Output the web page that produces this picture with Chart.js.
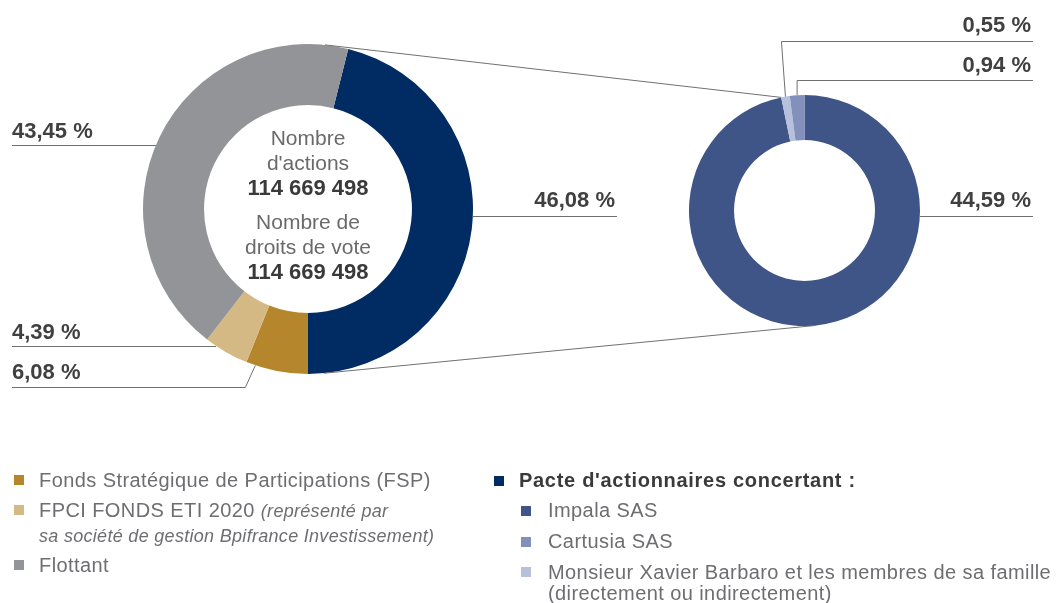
<!DOCTYPE html>
<html lang="fr">
<head>
<meta charset="utf-8">
<script src="https://cdn.jsdelivr.net/npm/chart.js@4.4.1/dist/chart.umd.min.js"></script>
<style>
    body { margin: 0; width: 1056px; height: 603px; background: #fff; position: relative; overflow: hidden;
           font-family: "Liberation Sans", Arial, sans-serif; }
    #leftBox { position: absolute; left: 143px; top: 44px; width: 330px; height: 330px; }
    #rightBox { position: absolute; left: 689px; top: 95px; width: 231px; height: 231px; }
    #overlay { position: absolute; left: 0; top: 0; pointer-events: none; }
    .pct { position: absolute; font-weight: bold; font-size: 22px; line-height: 24px; color: #404040; white-space: nowrap; }
    .center { position: absolute; left: 208px; width: 200px; text-align: center; font-size: 21px; line-height: 25px; color: #6a6a6a; }
    .center b { color: #3a3a3a; font-size: 22px; }
    .leg { position: absolute; font-size: 20px; line-height: 24px; color: #6d6e71; white-space: nowrap; letter-spacing: 0.42px; }
    .leg i { font-size: 18px; letter-spacing: 0.3px; }
    .sq { position: absolute; width: 10px; height: 10px; }
</style>
</head>
<body>
<div id="leftBox"><canvas id="mainChart"></canvas></div>
<div id="rightBox"><canvas id="pacteChart"></canvas></div>
<canvas id="overlay" width="1056" height="603"></canvas>

<div class="center" style="top:125px;">Nombre<br>d'actions<br><b>114 669 498</b></div>
<div class="center" style="top:209px;">Nombre de<br>droits de vote<br><b>114 669 498</b></div>

<div id="labels"></div>

<!-- legend -->
<div class="sq" style="left:14px; top:475px; background:#b5862b;"></div>
<div class="leg" style="left:39px; top:468px;">Fonds Stratégique de Participations (FSP)</div>
<div class="sq" style="left:14px; top:505px; background:#d5b985;"></div>
<div class="leg" style="left:39px; top:498px;">FPCI FONDS ETI 2020 <i>(représenté par</i></div>
<div class="leg" style="left:39px; top:523px;"><i>sa société de gestion Bpifrance Investissement)</i></div>
<div class="sq" style="left:14px; top:560px; background:#939497;"></div>
<div class="leg" style="left:39px; top:553px;">Flottant</div>

<div class="sq" style="left:494px; top:476px; background:#002b63;"></div>
<div class="leg" style="left:519px; top:468px; font-weight:bold; color:#3a3a3a; letter-spacing:0.7px;">Pacte d'actionnaires concertant :</div>
<div class="sq" style="left:521px; top:506px; background:#3f5587;"></div>
<div class="leg" style="left:548px; top:498px;">Impala SAS</div>
<div class="sq" style="left:521px; top:537px; background:#8390bb;"></div>
<div class="leg" style="left:548px; top:529px;">Cartusia SAS</div>
<div class="sq" style="left:521px; top:567px; background:#b7c0dc;"></div>
<div class="leg" style="left:548px; top:560px;">Monsieur Xavier Barbaro et les membres de sa famille</div>
<div class="leg" style="left:548px; top:581px;">(directement ou indirectement)</div>

<script>
    // --- data ---
    const mainLabels = ["Pacte d'actionnaires concertant", "Fonds Stratégique de Participations (FSP)", "FPCI FONDS ETI 2020", "Flottant"];
    const mainShares = [46.08, 6.08, 4.39, 43.45];
    const mainColors = ['#002b63', '#b5862b', '#d5b985', '#939497'];

    const pacteLabels = ["Impala SAS", "Monsieur Xavier Barbaro et les membres de sa famille", "Cartusia SAS"];
    const pacteShares = [44.59, 0.55, 0.94];
    const pacteColors = ['#3f5587', '#b7c0dc', '#8390bb'];

    const fmt = v => v.toFixed(2).replace('.', ',') + ' %';

    // pacte slice ends at the bottom of the ring
    const total = mainShares.reduce((a, b) => a + b, 0);
    const mainRotation = 180 - mainShares[0] / total * 360;

    function makeDonut(id, labels, data, colors, cutout, rotation) {
        return new Chart(document.getElementById(id), {
            type: 'doughnut',
            data: {
                labels: labels,
                datasets: [{ data: data, backgroundColor: colors, borderWidth: 0, hoverOffset: 0 }]
            },
            options: {
                responsive: true,
                maintainAspectRatio: false,
                animation: false,
                cutout: cutout,
                rotation: rotation,
                plugins: { legend: { display: false }, tooltip: { enabled: false } }
            }
        });
    }

    const mainChart = makeDonut('mainChart', mainLabels, mainShares, mainColors, '63%', mainRotation);
    const pacteChart = makeDonut('pacteChart', pacteLabels, pacteShares, pacteColors, '61%', 0);

    function arcInfo(chart, i) {
        const a = chart.getDatasetMeta(0).data[i];
        const box = chart.canvas.getBoundingClientRect();
        return { cx: box.left + a.x, cy: box.top + a.y, r: a.outerRadius, s: a.startAngle, e: a.endAngle };
    }
    function onRing(g, ang) { return [g.cx + g.r * Math.cos(ang), g.cy + g.r * Math.sin(ang)]; }
    function rowHit(g, y, side) {
        const d = Math.sqrt(Math.max(0, g.r * g.r - (y - g.cy) * (y - g.cy)));
        return [g.cx + side * d, y];
    }

    // label placement: [chart, index, text centre y, line y, side]
    const labelSpots = [
        [mainChart, 3, 131, 145, 'left'],
        [mainChart, 0, 200, 216, 'right'],
        [mainChart, 2, 332, 346, 'left'],
        [mainChart, 1, 372, 387, 'elbowLeft'],
        [pacteChart, 1, 25, 41, 'elbowRight'],
        [pacteChart, 2, 65, 80, 'elbowRight'],
        [pacteChart, 0, 200, 216, 'right']
    ];

    function drawLeaders() {
        const ctx = document.getElementById('overlay').getContext('2d');
        ctx.clearRect(0, 0, 1056, 603);
        ctx.strokeStyle = '#707070';
        ctx.lineWidth = 1;
        const holder = document.getElementById('labels');
        holder.innerHTML = '';

        const seg = pts => {
            ctx.beginPath();
            pts.forEach((p, k) => k ? ctx.lineTo(p[0], p[1]) : ctx.moveTo(p[0], p[1]));
            ctx.stroke();
        };

        labelSpots.forEach(([chart, i, ty, ly, mode]) => {
            const g = arcInfo(chart, i);
            const val = chart.data.datasets[0].data[i];
            const el = document.createElement('div');
            el.className = 'pct';
            el.textContent = fmt(val);
            el.style.top = (ty - 12) + 'px';
            const yl = ly + 0.5;
            const rightEdge = chart === mainChart ? 617 : 1033;
            if (mode === 'left') {
                el.style.left = '12px';
                seg([[12, yl], [rowHit(g, ly, -1)[0], yl]]);
            } else if (mode === 'right') {
                el.style.right = (1056 - rightEdge + 2) + 'px';
                seg([[rowHit(g, ly, 1)[0], yl], [rightEdge, yl]]);
            } else if (mode === 'elbowLeft') {
                el.style.left = '12px';
                const t = onRing(g, g.s + 0.85 * (g.e - g.s));
                seg([[12, yl], [t[0] - 10, yl], t]);
            } else {
                el.style.right = (1056 - rightEdge + 2) + 'px';
                const t = onRing(g, (g.s + g.e) / 2);
                const ex = i === 1 ? t[0] - 4 : t[0];
                seg([[rightEdge, yl], [ex, yl], t]);
            }
            holder.appendChild(el);
        });

        // connectors from the pacte ring on the left to its breakdown on the right
        const a = arcInfo(mainChart, 0), b = arcInfo(pacteChart, 0);
        const d = Math.hypot(b.cx - a.cx, b.cy - a.cy);
        const phi = Math.atan2(b.cy - a.cy, b.cx - a.cx);
        const off = Math.acos((a.r - b.r) / d);
        const topStart = [a.cx + a.r * Math.cos(phi - off), a.cy + a.r * Math.sin(phi - off)];
        const firstSmall = arcInfo(pacteChart, 1);
        seg([topStart, onRing(firstSmall, firstSmall.s)]);
        const th = phi + off;
        seg([[a.cx + a.r * Math.cos(th), a.cy + a.r * Math.sin(th)],
             [b.cx + b.r * Math.cos(th), b.cy + b.r * Math.sin(th)]]);
    }

    drawLeaders();
</script>
</body>
</html>
